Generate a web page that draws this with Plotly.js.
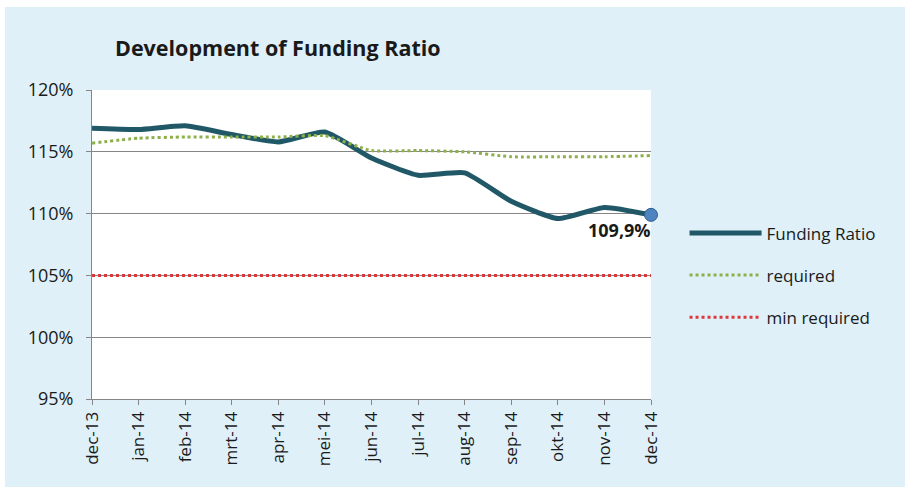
<!DOCTYPE html>
<html><head><meta charset="utf-8">
<script src="https://cdn.plot.ly/plotly-3.0.1.min.js"></script>
<style>
html,body{margin:0;padding:0;background:#fff;}
#chart{width:909px;height:491px;position:relative;}
#frame{position:absolute;left:0;top:0;width:909px;height:491px;box-sizing:border-box;border-style:solid;border-color:#fff;border-width:7px 4px 4px 5px;pointer-events:none;}
</style></head>
<body>
<div style="position:relative;width:909px;height:491px;">
<div id="chart"></div>
<div id="frame"></div>
</div>
<script>
const months = ['dec-13','jan-14','feb-14','mrt-14','apr-14','mei-14','jun-14','jul-14','aug-14','sep-14','okt-14','nov-14','dec-14'];
const fundingRatio = [116.9,116.8,117.1,116.4,115.8,116.6,114.5,113.1,113.3,111.0,109.6,110.5,109.9];
const required = [115.7,116.1,116.2,116.2,116.2,116.3,115.1,115.1,115.0,114.6,114.6,114.6,114.7];
const minRequired = [105,105,105,105,105,105,105,105,105,105,105,105,105];
const yTicks = [95,100,105,110,115,120];
const yTickText = ['95%','100%','105%','110%','115%','120%'];
const seriesNames = ['Funding Ratio','required','min required'];

const FONT = '"Open Sans", Lato, sans-serif';
const lastIdx = fundingRatio.length - 1;
const lastLabel = fundingRatio[lastIdx].toFixed(1).replace('.', ',') + '%';

const traces = [
  {x: months, y: fundingRatio, name: seriesNames[0], type: 'scatter', mode: 'lines',
   line: {color: '#215868', width: 5, shape: 'spline', smoothing: 0.5}, legendgroup: 'a'},
  {x: months, y: required, name: seriesNames[1], type: 'scatter', mode: 'lines',
   line: {color: '#8DB04B', width: 3, dash: 'dot', shape: 'spline', smoothing: 0.5}, legendgroup: 'b'},
  {x: months, y: minRequired, name: seriesNames[2], type: 'scatter', mode: 'lines',
   line: {color: '#D9393B', width: 3, dash: 'dot'}, legendgroup: 'c'},
  {x: [months[lastIdx]], y: [fundingRatio[lastIdx]], type: 'scatter', mode: 'markers', showlegend: false,
   marker: {color: '#4F83BF', size: 13, line: {color: '#2E5E8E', width: 1}}, cliponaxis: false, hoverinfo: 'skip'}
];

const layout = {
  width: 909, height: 491,
  paper_bgcolor: '#DFF0F8', plot_bgcolor: '#FFFFFF',
  margin: {l: 92, r: 258, t: 90, b: 92},
  font: {family: FONT, size: 16, color: '#1a1a1a'},
  title: {text: '<b>Development of Funding Ratio</b>', x: 115/909, xanchor: 'left', y: 1-48/491, yanchor: 'middle',
          font: {family: FONT, size: 21.5, color: '#1a1a1a'}},
  showlegend: true,
  legend: {x: 1.06, xanchor: 'left', y: 0.40, yanchor: 'middle', bgcolor: 'rgba(0,0,0,0)',
           font: {family: FONT, size: 17, color: '#1a1a1a'}, tracegroupgap: 17, itemwidth: 72},
  xaxis: {type: 'category', range: [0, months.length - 1], tickangle: -90, ticks: 'outside', ticklen: 5,
          tickcolor: '#868686', showline: true, linecolor: '#868686', linewidth: 1, showgrid: false,
          tickfont: {family: FONT, size: 17, color: '#1a1a1a'}, zeroline: false, fixedrange: true},
  yaxis: {range: [95, 120], tickvals: yTicks, ticktext: yTickText, ticks: 'outside', ticklen: 5,
          tickcolor: '#868686', showline: true, linecolor: '#868686', linewidth: 1, ticklabelstandoff: 9,
          showgrid: true, gridcolor: '#868686', gridwidth: 1, zeroline: false,
          tickfont: {family: FONT, size: 18, color: '#1a1a1a'}, fixedrange: true},
  annotations: [{x: months[lastIdx], y: fundingRatio[lastIdx], xref: 'x', yref: 'y', text: '<b>' + lastLabel + '</b>',
                 showarrow: false, xanchor: 'right', yanchor: 'top', xshift: 2, yshift: -1,
                 font: {family: FONT, size: 18, color: '#1a1a1a'}}]
};

Plotly.newPlot('chart', traces, layout, {displayModeBar: false, staticPlot: true});
</script>
</body></html>
